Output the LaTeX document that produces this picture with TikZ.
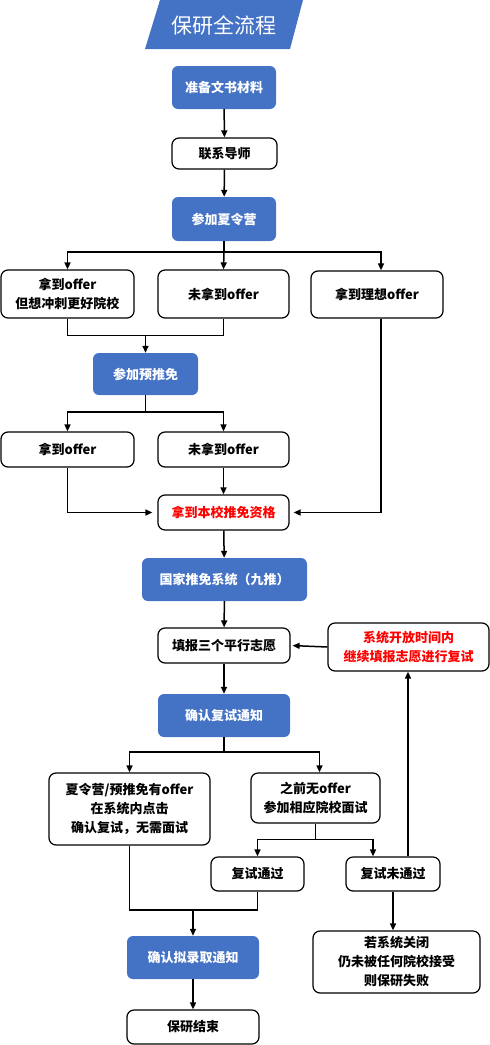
\documentclass[tikz,border=0pt]{standalone}
\usepackage{fontspec}
\newfontfamily\cjk{Noto Sans CJK SC}
\usetikzlibrary{arrows.meta}
\definecolor{flowblue}{RGB}{68,114,196}

\begin{document}
\begin{tikzpicture}[x=1pt,y=-1pt,
   every node/.style={font=\cjk\bfseries\fontsize{13}{19}\selectfont,align=center,inner sep=0pt},
   boxsize/.style 2 args={minimum width=#1pt,minimum height=#2pt},
   bluebox/.style={fill=flowblue,text=white,rounded corners=6pt},
   whitebox/.style={draw=black,line width=1.2pt,fill=white,rounded corners=7pt},
   redtext/.style={text=red},
   link/.style={line width=1.5pt},
   arr/.style={link,-{Triangle[length=7pt,width=6pt]}}]
\useasboundingbox (0,0) rectangle (490,1045);

% title
\fill[flowblue] (160,0) -- (303,0) -- (290,49) -- (145,49) -- cycle;
\node[text=white,font=\cjk\fontsize{21}{24}\selectfont] (title) at (224,25) {保研全流程};

% main column
\node[bluebox,boxsize={104}{43}]  (prep)   at (224,87.5)  {准备文书材料};
\node[whitebox,boxsize={105}{31}] (tutor)  at (224.5,153.5) {联系导师};
\node[bluebox,boxsize={104}{44}]  (camp)   at (224,219)   {参加夏令营};
\node[whitebox,boxsize={133}{48}] (campA)  at (67.5,294)  {拿到offer\\但想冲刺更好院校};
\node[whitebox,boxsize={131}{48}] (campB)  at (223.5,294) {未拿到offer};
\node[whitebox,boxsize={132}{47}] (campC)  at (377,294.5) {拿到理想offer};
\node[bluebox,boxsize={105}{42}]  (pre)    at (145.5,374) {参加预推免};
\node[whitebox,boxsize={133}{35}] (preA)   at (67.5,449.5) {拿到offer};
\node[whitebox,boxsize={131}{35}] (preB)   at (223.5,449.5) {未拿到offer};
\node[whitebox,redtext,boxsize={131}{35}] (qual) at (223.5,512.5) {拿到本校推免资格};
\node[bluebox,boxsize={165}{43}]  (sys)    at (224.5,579.5) {国家推免系统（九推）};
\node[whitebox,boxsize={132}{35}] (wish)   at (224,645.5) {填报三个平行志愿};
\node[whitebox,redtext,boxsize={161}{48}] (reopen) at (408.5,647) {系统开放时间内\\继续填报志愿进行复试};
\node[bluebox,boxsize={132}{43}]  (notice) at (224,715.5) {确认复试通知};
\node[whitebox,boxsize={161}{72}] (hasoff) at (129.5,809) {夏令营/预推免有offer\\在系统内点击\\确认复试，无需面试};
\node[whitebox,boxsize={129}{50}] (nooff)  at (315.5,798) {之前无offer\\参加相应院校面试};
\node[whitebox,boxsize={93}{34}]  (pass)   at (257.5,874) {复试通过};
\node[whitebox,boxsize={94}{34}]  (fail)   at (393,874)   {复试未通过};
\node[bluebox,boxsize={132}{43}]  (admit)  at (193,957.5) {确认拟录取通知};
\node[whitebox,boxsize={132}{34}] (done)   at (193,1027)  {保研结束};
\node[whitebox,boxsize={167}{62}] (lost)   at (396.5,962) {若系统关闭\\仍未被任何院校接受\\则保研失败};

% connectors
\draw[arr] (prep) -- (tutor);
\draw[arr] (tutor) -- (camp);
\draw[link] (camp.south) -- (224,252) coordinate (s1);
\draw[arr] (s1) -| (campA.north);
\draw[arr] (s1) -- (campB.north);
\draw[arr] (s1) -| ([xshift=4pt]campC.north);
\draw[link] (campA.south) -- ++(0,17) coordinate (s2) -| (campB.south);
\draw[arr] (s2 -| pre.north) -- (pre.north);
\draw[link] (pre.south) -- (145.5,412) coordinate (s3);
\draw[arr] (s3) -| (preA.north);
\draw[arr] (s3) -| (preB.north);
\draw[arr,shorten >=5pt] (preA.south) |- (qual.west);
\draw[arr] (preB) -- (qual);
\draw[arr,shorten >=4pt] ([xshift=4pt]campC.south) |- (qual.east);
\draw[arr] (qual) -- (sys);
\draw[arr] (sys) -- (wish);
\draw[arr,shorten >=2pt] (reopen.west) -- (wish.east);
\draw[arr] (wish) -- (notice);
\draw[link] (notice.south) -- (224,752) coordinate (s4);
\draw[arr] (s4) -| (hasoff.north);
\draw[arr] (s4) -| ([xshift=4pt]nooff.north);
\draw[link] (nooff.south) -- ++(0,16) coordinate (s5);
\draw[arr] (s5) -| (pass.north);
\draw[arr] (s5) -| ([xshift=-20pt]fail.north);
\draw[arr] ([xshift=15pt]fail.north) -- ([xshift=-0.5pt]reopen.south);
\draw[arr] (fail.south) -- (fail.south |- lost.north);
\draw[link] (hasoff.south) -- (129.5,910) coordinate (s6) -| (pass.south);
\draw[arr] (s6 -| admit.north) -- (admit.north);
\draw[arr] (admit) -- (done);
\end{tikzpicture}
\end{document}
